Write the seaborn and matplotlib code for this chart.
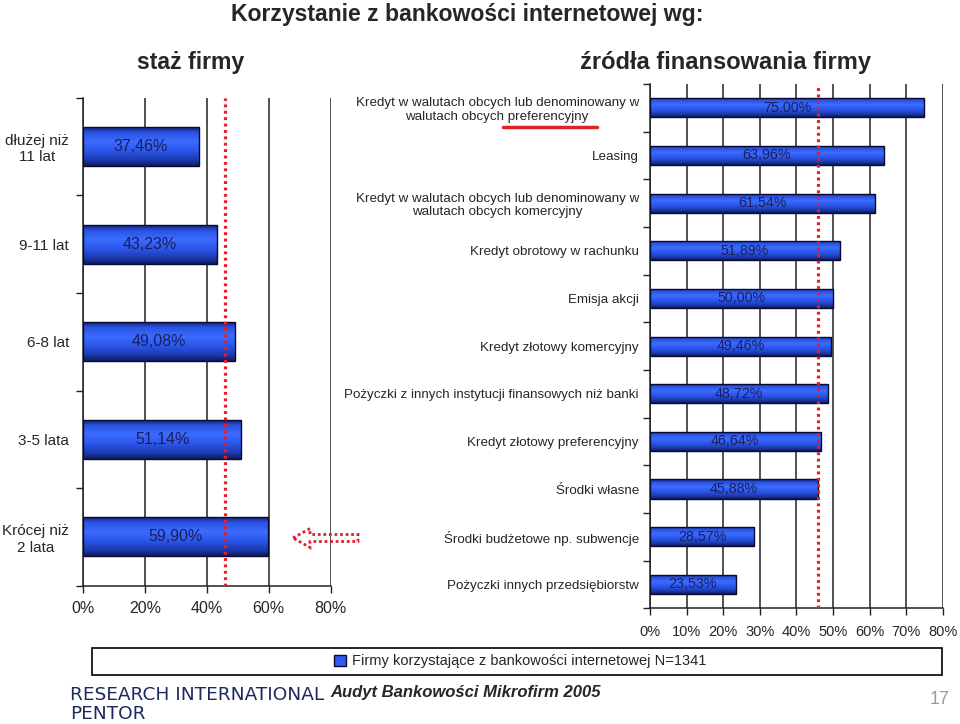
import numpy as np
import pandas as pd
import seaborn as sns
import matplotlib.pyplot as plt
from matplotlib.colors import LinearSegmentedColormap
from matplotlib.patches import Rectangle, FancyArrow, Patch
from matplotlib.lines import Line2D

#%% dane

staz = ["dłużej niż\n11 lat", "9-11 lat", "6-8 lat", "3-5 lata", "Krócej niż\n2 lata"]
staz_proc = [37.46, 43.23, 49.08, 51.14, 59.90]

zrodla = [
    "Kredyt w walutach obcych lub denominowany w\nwalutach obcych preferencyjny",
    "Leasing",
    "Kredyt w walutach obcych lub denominowany w\nwalutach obcych komercyjny",
    "Kredyt obrotowy w rachunku",
    "Emisja akcji",
    "Kredyt złotowy komercyjny",
    "Pożyczki z innych instytucji finansowych niż banki",
    "Kredyt złotowy preferencyjny",
    "Środki własne",
    "Środki budżetowe np. subwencje",
    "Pożyczki innych przedsiębiorstw",
]
zrodla_proc = [75.00, 63.96, 61.54, 51.89, 50.00, 49.46, 48.72, 46.64, 45.88, 28.57, 23.53]

srednia = 45.9  # czerwona linia
ticks_lewy = [0, 20, 40, 60, 80]
ticks_prawy = [0, 10, 20, 30, 40, 50, 60, 70, 80]

#%% styl

sns.set_theme(style="white")
plt.rcParams["font.family"] = ["Liberation Sans", "DejaVu Sans"]

niebieski = "#2f5cf0"
granat = "#1a1f5c"
czerwony = "#e0202a"
cmap = LinearSegmentedColormap.from_list(
    "cyl", [(0, "#0e1c66"), (0.15, "#2a52e0"), (0.38, "#3b6cff"),
            (0.62, "#2c56ea"), (0.85, "#1b3bb0"), (1, "#0e1c60")])


def rysuj(ax, kategorie, wartosci, ticks, fs_lab, fs_val, fs_tick, pad_tick):
    df = pd.DataFrame({"kategoria": kategorie, "wartosc": wartosci})
    sns.barplot(data=df, x="wartosc", y="kategoria", orient="h", color=niebieski,
                saturation=1, width=0.4, edgecolor="#0a0a30", linewidth=1, ax=ax)
    n = len(kategorie)
    grad = np.linspace(0, 1, 64).reshape(-1, 1)
    for p in ax.patches:
        x0, y0 = p.get_x(), p.get_y()
        w, h = p.get_width(), p.get_height()
        im = ax.imshow(grad, cmap=cmap, aspect="auto", origin="upper",
                       extent=(x0, x0 + w, y0 + h, y0), zorder=2)
        im.set_clip_path(p)
        p.set_zorder(3)
        p.set_facecolor("none")
    ax.bar_label(ax.containers[0], labels=[f"{v:.2f}%".replace(".", ",") for v in wartosci],
                 label_type="center", color=granat, fontsize=fs_val, zorder=5)
    ax.axvline(srednia, color=czerwony, ls=(0, (0.9, 1.1)), lw=2.3, zorder=4)
    ax.set_xlim(0, 80)
    ax.set_ylim(n - 0.5, -0.5)
    ax.set_xticks(ticks)
    ax.set_xticklabels([f"{t}%" for t in ticks], fontsize=fs_tick)
    ax.set_yticks(range(n))
    ax.set_yticklabels(kategorie, fontsize=fs_lab, multialignment="center")
    ax.set_yticks(np.arange(-0.5, n), minor=True)
    ax.tick_params(axis="y", which="major", length=0, pad=8)
    ax.tick_params(axis="y", which="minor", length=5, width=1, left=True, color="#222")
    ax.tick_params(axis="x", length=5, width=1, bottom=True, color="#222", pad=pad_tick)
    ax.xaxis.grid(True, color="#222222", lw=1.1)
    ax.set_axisbelow(True)
    ax.set_xlabel("")
    ax.set_ylabel("")
    for s in ["top", "right"]:
        ax.spines[s].set_visible(False)
    for s in ["left", "bottom"]:
        ax.spines[s].set_color("#222")
        ax.spines[s].set_linewidth(1.1)


#%% wykres

fig = plt.figure(figsize=(9.6, 7.24), dpi=100)
ax1 = fig.add_axes([0.0865, 0.191, 0.258, 0.674])
ax2 = fig.add_axes([0.677, 0.160, 0.305, 0.724])

rysuj(ax1, staz, staz_proc, ticks_lewy, 11, 11.5, 11.5, 6)
ax1.tick_params(axis="y", which="major", pad=10)
rysuj(ax2, zrodla, zrodla_proc, ticks_prawy, 9.6, 10.3, 10.5, 7)

fig.text(467 / 960, 1 - 14 / 724, "Korzystanie z bankowości internetowej wg:",
         ha="center", va="center", fontsize=16.6, fontweight="bold")
fig.text(0.199, 1 - 63 / 724, "staż firmy", ha="center", va="center",
         fontsize=16.6, fontweight="bold")
fig.text(0.756, 1 - 63 / 724, "źródła finansowania firmy", ha="center", va="center",
         fontsize=17, fontweight="bold")

# podkreslenie i strzalka
fig.add_artist(Line2D([503 / 960, 597 / 960], [1 - 127 / 724] * 2,
                      color=czerwony, lw=2.5))
fig.add_artist(FancyArrow(3.58, 1.86, -0.48, 0, width=0.07, head_width=0.19,
                          head_length=0.17, length_includes_head=False,
                          transform=fig.dpi_scale_trans, fill=False,
                          edgecolor=czerwony, lw=2, ls=(0, (1, 1))))

# legenda
fig.add_artist(Rectangle((92 / 960, 1 - 675 / 724), 850 / 960, 27 / 724,
                         transform=fig.transFigure, fill=False, edgecolor="black", lw=1.2))
fig.legend(handles=[Patch(facecolor=niebieski, edgecolor="#0a0a30")],
           labels=["Firmy korzystające z bankowości internetowej N=1341"],
           loc="center", bbox_to_anchor=(0.542, 1 - 661.5 / 724), frameon=False,
           fontsize=10.5, handlelength=0.8, handleheight=0.8, handletextpad=0.4)

# stopka
fig.text(70 / 960, 1 - 695 / 724, "RESEARCH INTERNATIONAL", ha="left", va="center",
         fontsize=13.3, color="#1b2a5e", family="DejaVu Sans")
fig.text(70 / 960, 1 - 714 / 724, "PENTOR", ha="left", va="center",
         fontsize=13.3, color="#1b2a5e", family="DejaVu Sans")
fig.text(330 / 960, 1 - 693 / 724, "Audyt Bankowości Mikrofirm 2005", ha="left",
         va="center", fontsize=12, fontweight="bold", style="italic")
fig.text(940 / 960, 1 - 700 / 724, "17", ha="center", va="center",
         fontsize=13, color="#999999")

fig.savefig("out.png", dpi=100)
